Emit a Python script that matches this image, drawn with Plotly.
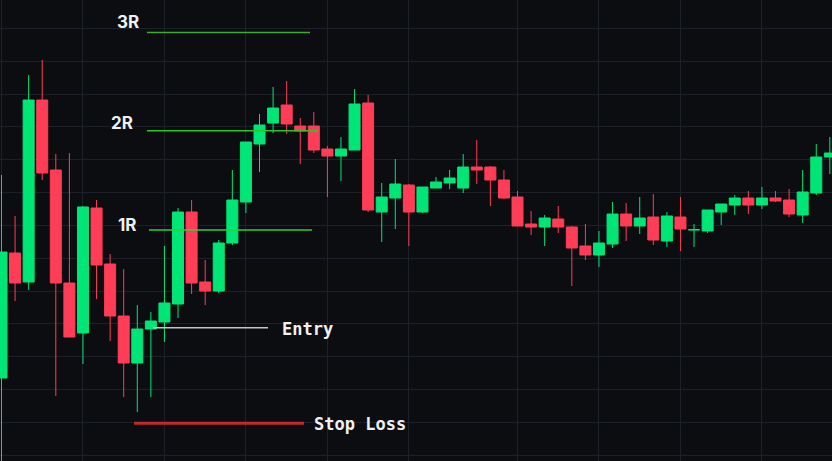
import plotly.graph_objects as go

# ---- data (price units) ----
idx = list(range(62))
opens = [122, 247, 218, 400, 330, 217, 167, 292, 236, 184, 137, 171, 178, 196, 288, 218,
         209, 257, 298, 356, 377, 395, 374, 374, 351, 344, 350, 397, 288, 302, 315, 288,
         312, 317, 312, 333, 333, 320, 303, 276, 273, 281, 273, 254, 245, 256, 286, 274,
         283, 259, 283, 270, 269, 288, 295, 302, 295, 302, 300, 285, 307, 343]
highs = [325, 284, 425, 440, 346, 347, 294, 300, 246, 231, 195, 188, 254, 292, 300, 240,
         260, 330, 358, 386, 413, 419, 382, 388, 354, 363, 411, 405, 317, 341, 316, 313,
         323, 330, 346, 360, 334, 330, 309, 289, 285, 294, 274, 276, 269, 298, 297, 303,
         306, 288, 303, 276, 290, 296, 305, 309, 313, 309, 311, 330, 356, 363]
lows = [25, 199, 210, 320, 104, 163, 136, 201, 159, 103, 88, 103, 158, 182, 206, 195,
        207, 255, 287, 328, 367, 366, 336, 347, 303, 319, 350, 288, 258, 271, 254, 287,
        312, 311, 307, 316, 294, 301, 274, 265, 254, 267, 214, 240, 233, 252, 259, 266,
        255, 253, 249, 253, 267, 275, 285, 286, 291, 298, 283, 277, 305, 326]
closes = [248, 217, 400, 327, 217, 163, 293, 235, 184, 137, 171, 179, 197, 288, 217, 209,
          257, 300, 358, 375, 392, 376, 369, 350, 344, 351, 396, 290, 303, 316, 288, 313,
          318, 322, 333, 330, 320, 302, 274, 273, 282, 273, 252, 245, 257, 286, 274, 282,
          260, 284, 271, 270.4, 290, 296, 302, 295, 302, 299, 286, 308, 343, 347]

level_names = ["3R", "2R", "1R", "Entry", "Stop Loss"]
level_values = [467.5, 369.3, 270, 172.3, 76.7]

# ---- styling ----
BG = "#0b0d11"
GRID = "#1c2029"
UP = "#00e676"
DOWN = "#ff3d57"

fig = go.Figure(go.Candlestick(
    x=idx, open=opens, high=highs, low=lows, close=closes,
    increasing=dict(line=dict(color=UP, width=1), fillcolor=UP),
    decreasing=dict(line=dict(color=DOWN, width=1), fillcolor=DOWN),
    whiskerwidth=0, hoverinfo="skip", showlegend=False,
))

line_styles = {
    "3R": dict(x0=10.71, x1=22.72, color="#3fae26", width=1.4),
    "2R": dict(x0=10.71, x1=23.31, color="#2bc52f", width=1.4),
    "1R": dict(x0=10.86, x1=22.86, color="#2ecf3b", width=1.4),
    "Entry": dict(x0=11.16, x1=19.63, color="#c4c4c4", width=1.5),
    "Stop Loss": dict(x0=9.76, x1=22.28, color="#c62828", width=3),
}
label_pos = {
    "3R": dict(x=9.35, dy=10.5, xanchor="center"),
    "2R": dict(x=8.9, dy=7.5, xanchor="center"),
    "1R": dict(x=9.3, dy=5.0, xanchor="center"),
    "Entry": dict(x=20.5, dy=-1.0, xanchor="left"),
    "Stop Loss": dict(x=22.85, dy=-0.5, xanchor="left"),
}

for name, val in zip(level_names, level_values):
    s = line_styles[name]
    fig.add_shape(type="line", xref="x", yref="y", x0=s["x0"], x1=s["x1"], y0=val, y1=val,
                  line=dict(color=s["color"], width=s["width"]), layer="above")
    p = label_pos[name]
    if name.endswith("R"):
        font = dict(family="Inter, Roboto, sans-serif", size=17, color="#f0f0f0")
    else:
        font = dict(family="DejaVu Sans Mono, monospace", size=17, color="#f0f0f0")
    fig.add_annotation(x=p["x"], y=val + p["dy"], xref="x", yref="y", text="<b>" + name + "</b>",
                       showarrow=False, xanchor=p["xanchor"], yanchor="middle", font=font)

fig.update_layout(
    width=832, height=461,
    margin=dict(l=0, r=0, t=0, b=0),
    paper_bgcolor=BG, plot_bgcolor=BG,
    boxgap=0.19, boxgroupgap=0,
    showlegend=False,
    xaxis=dict(range=[-0.11, 61.16], rangeslider=dict(visible=False),
               tickvals=[0, 6, 12, 18, 24, 30, 38, 44, 50, 56], showticklabels=False,
               showgrid=True, gridcolor=GRID, gridwidth=1, zeroline=False, showline=False),
    yaxis=dict(range=[39, 500], tick0=471.7, dtick=32.85, showticklabels=False,
               showgrid=True, gridcolor=GRID, gridwidth=1, zeroline=False, showline=False),
)

fig.write_html("out.html")
